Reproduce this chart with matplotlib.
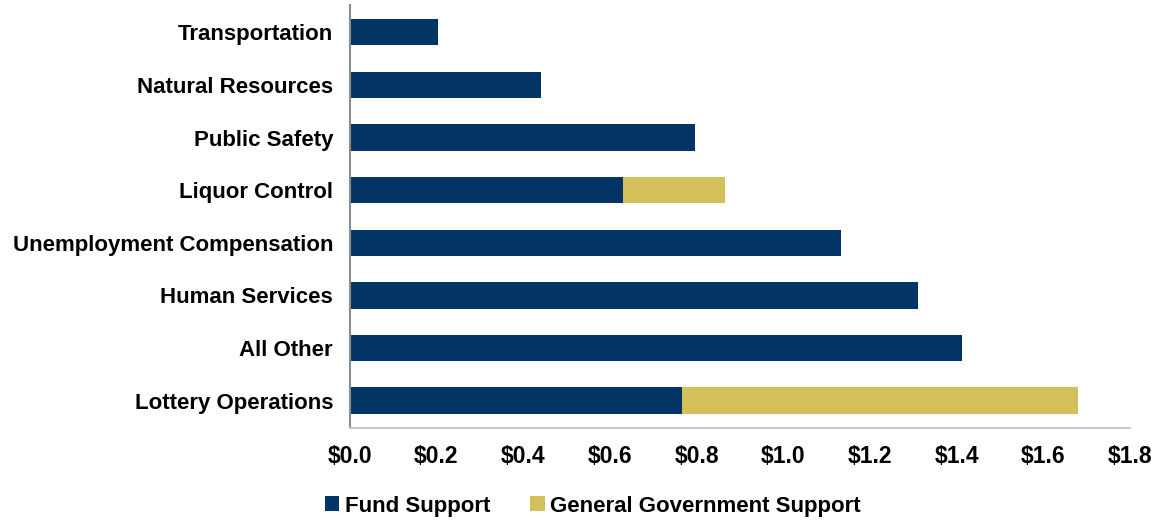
import matplotlib.pyplot as plt
import numpy as np

plt.rcParams['font.family'] = ['Liberation Sans', 'DejaVu Sans']

categories = ["Lottery Operations", "All Other", "Human Services",
              "Unemployment Compensation", "Liquor Control", "Public Safety",
              "Natural Resources", "Transportation"]
fund_support = [0.767, 1.412, 1.310, 1.132, 0.631, 0.797, 0.441, 0.203]
general_support = [0.913, 0.0, 0.0, 0.0, 0.235, 0.0, 0.0, 0.0]
x_ticks = [0.0, 0.2, 0.4, 0.6, 0.8, 1.0, 1.2, 1.4, 1.6, 1.8]

navy = '#023565'
gold = '#d4c05a'

fig = plt.figure(figsize=(11.58, 5.21), dpi=100)
ax = fig.add_axes([0.302, 0.1785, 0.674, 0.812])

y = np.arange(len(categories))
ax.barh(y, fund_support, height=0.5, color=navy, label='Fund Support')
ax.barh(y, general_support, left=fund_support, height=0.5, color=gold,
        label='General Government Support')

ax.set_xlim(0, 1.8)
ax.set_ylim(-0.52, len(categories) - 0.48)
ax.set_xticks(x_ticks)
ax.set_xticklabels([f"${v:.1f}" for v in x_ticks], fontsize=16.5, fontweight='bold')
ax.set_yticks(y)
ax.set_yticklabels(categories, fontsize=16, fontweight='bold')
ax.tick_params(axis='both', length=0)
ax.tick_params(axis='x', pad=12)
ax.tick_params(axis='y', pad=12)

for side in ['top', 'right']:
    ax.spines[side].set_visible(False)
ax.spines['left'].set_color('#8c8c8c')
ax.spines['left'].set_linewidth(1.5)
ax.spines['bottom'].set_color('#c8c8c8')
ax.spines['bottom'].set_linewidth(1.5)

fig.legend(loc='lower center', bbox_to_anchor=(0.512, -0.03), ncol=2,
           frameon=False, handlelength=0.65, handleheight=0.65, handletextpad=0.25,
           columnspacing=1.8, prop={'size': 16, 'weight': 'bold'})

fig.savefig('out.png', dpi=100)
